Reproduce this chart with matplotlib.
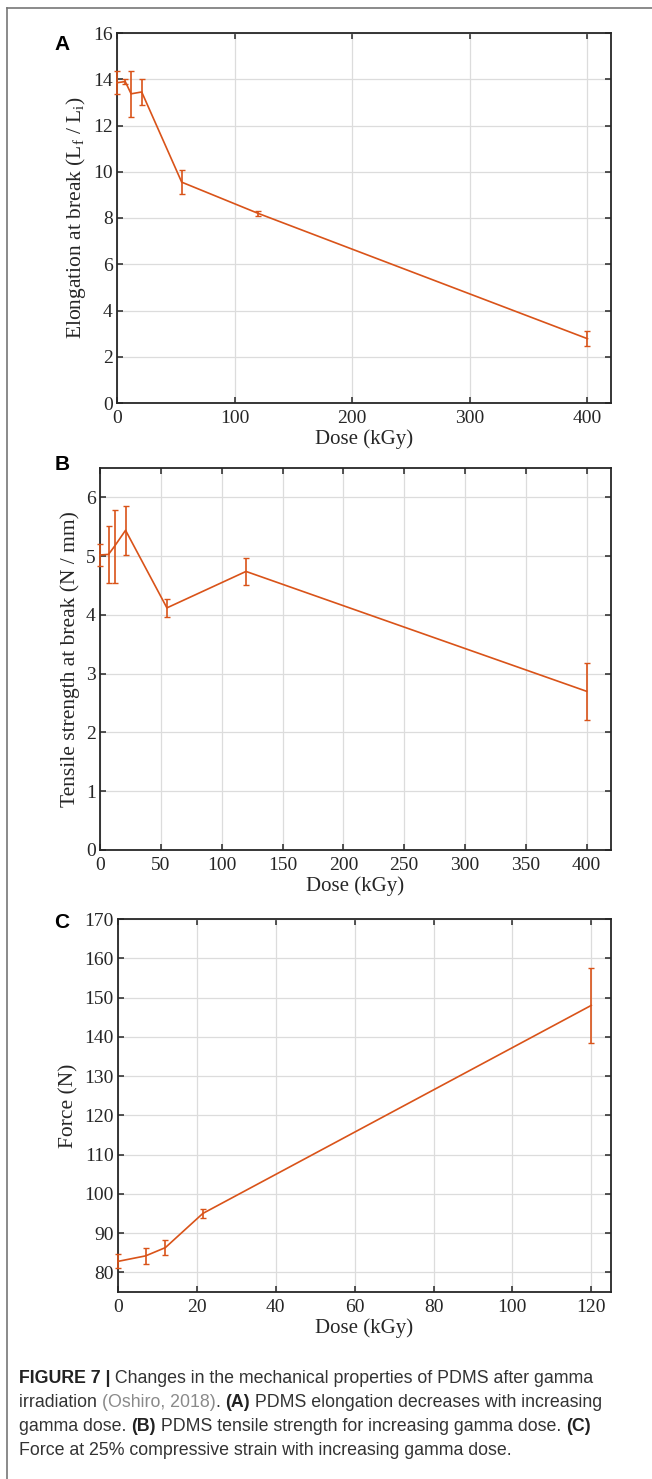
import matplotlib

matplotlib.use("Agg")
import matplotlib.pyplot as plt
from matplotlib.lines import Line2D

# Panel A: elongation at break
dose_a = [0, 7, 12, 21, 55, 120, 400]
elong = [13.85, 13.9, 13.37, 13.45, 9.55, 8.2, 2.78]
elong_err = [0.5, 0.1, 1.0, 0.55, 0.52, 0.12, 0.33]

# Panel B: tensile strength at break
dose_b = [0, 7, 12, 21, 55, 120, 400]
tensile = [5.02, 5.03, 5.17, 5.44, 4.12, 4.74, 2.70]
tensile_err = [0.18, 0.48, 0.62, 0.42, 0.15, 0.23, 0.49]

# Panel C: force at 25% compressive strain
dose_c = [0, 7, 12, 21.5, 120]
force = [82.8, 84.2, 86.3, 95.0, 148.0]
force_err = [1.8, 2.0, 1.9, 1.2, 9.5]

ticks_a = [0, 100, 200, 300, 400]
ticks_b = [0, 50, 100, 150, 200, 250, 300, 350, 400]
ticks_c = [0, 20, 40, 60, 80, 100, 120]

ORANGE = "#D95319"
INK = "#262626"
W, H = 652, 1479

plt.rcParams["font.family"] = ["Liberation Serif", "DejaVu Serif"]
plt.rcParams["mathtext.fontset"] = "custom"
plt.rcParams["mathtext.rm"] = "Liberation Serif"
plt.rcParams["mathtext.it"] = "Liberation Serif:italic"

fig = plt.figure(figsize=(W / 100, H / 100), dpi=100)


def px_axes(left, right, top, bottom):
    return fig.add_axes([left / W, 1 - bottom / H, (right - left) / W, (bottom - top) / H])


def style(ax, xlim, ylim, xticks, yticks, ylabel):
    ax.set_xlim(*xlim)
    ax.set_ylim(*ylim)
    ax.set_xticks(xticks)
    ax.set_yticks(yticks)
    ax.grid(True, color="#dcdcdc", lw=0.9)
    ax.set_axisbelow(True)
    ax.tick_params(direction="in", length=4, width=1.1, top=True, right=True,
                   labelsize=14, colors=INK)
    ax.tick_params(axis="x", pad=5)
    ax.tick_params(axis="y", pad=3)
    for s in ax.spines.values():
        s.set_linewidth(1.3)
        s.set_color(INK)
    ax.set_xlabel("Dose (kGy)", fontsize=15, color=INK, labelpad=2)
    ax.set_ylabel(ylabel, fontsize=15.5, color=INK, labelpad=4)


def panel(ax, x, y, err):
    ax.errorbar(x, y, yerr=err, color=ORANGE, lw=1.2, elinewidth=1.2,
                capsize=2, capthick=1.0, clip_on=False, zorder=3)


ax_a = px_axes(117, 611, 33, 403)
panel(ax_a, dose_a, elong, elong_err)
style(ax_a, (0, 420), (0, 16), ticks_a, range(0, 17, 2),
      r"Elongation at break (L$_\mathrm{f}$ / L$_\mathrm{i}$)")

ax_b = px_axes(100, 611, 468, 850)
panel(ax_b, dose_b, tensile, tensile_err)
style(ax_b, (0, 420), (0, 6.5), ticks_b, range(0, 7),
      "Tensile strength at break (N / mm)")

ax_c = px_axes(118, 611, 919, 1292)
panel(ax_c, dose_c, force, force_err)
style(ax_c, (0, 125), (75, 170), ticks_c, range(80, 171, 10), "Force (N)")

# panel letters
for letter, ypx in [("A", 45), ("B", 465), ("C", 922)]:
    fig.text(62 / W, 1 - ypx / H, letter, fontsize=15, fontweight="bold",
             family=["Liberation Sans", "DejaVu Sans"], ha="center", va="center")

# outer frame (top and left)
fig.add_artist(Line2D([7 / W, 7 / W], [0, 1 - 8 / H], transform=fig.transFigure,
                      color="#777777", lw=1.2))
fig.add_artist(Line2D([7 / W, 1], [1 - 8 / H, 1 - 8 / H], transform=fig.transFigure,
                      color="#777777", lw=1.2))

# caption with mixed styles, pieces laid out one after another
CAP_SIZE = 12.8
caption = [
    [("FIGURE 7 |", "bold", "#222222"),
     (" Changes in the mechanical properties of PDMS after gamma", "normal", "#333333")],
    [("irradiation ", "normal", "#333333"), ("(Oshiro, 2018)", "normal", "#8a8a8a"),
     (". ", "normal", "#333333"), ("(A)", "bold", "#222222"),
     (" PDMS elongation decreases with increasing", "normal", "#333333")],
    [("gamma dose. ", "normal", "#333333"), ("(B)", "bold", "#222222"),
     (" PDMS tensile strength for increasing gamma dose. ", "normal", "#333333"),
     ("(C)", "bold", "#222222")],
    [("Force at 25% compressive strain with increasing gamma dose.", "normal", "#333333")],
]
line_y = [1383, 1407, 1431, 1455]

fig.canvas.draw()
renderer = fig.canvas.get_renderer()
for pieces, ypx in zip(caption, line_y):
    xpx = 19
    for s, weight, color in pieces:
        t = fig.text(xpx / W, 1 - ypx / H, s.replace(" ", "\u00a0"), fontsize=CAP_SIZE,
                     fontweight=weight, color=color,
                     family=["Liberation Sans", "DejaVu Sans"],
                     ha="left", va="baseline")
        xpx += t.get_window_extent(renderer).width

fig.savefig("out.png", dpi=100)
